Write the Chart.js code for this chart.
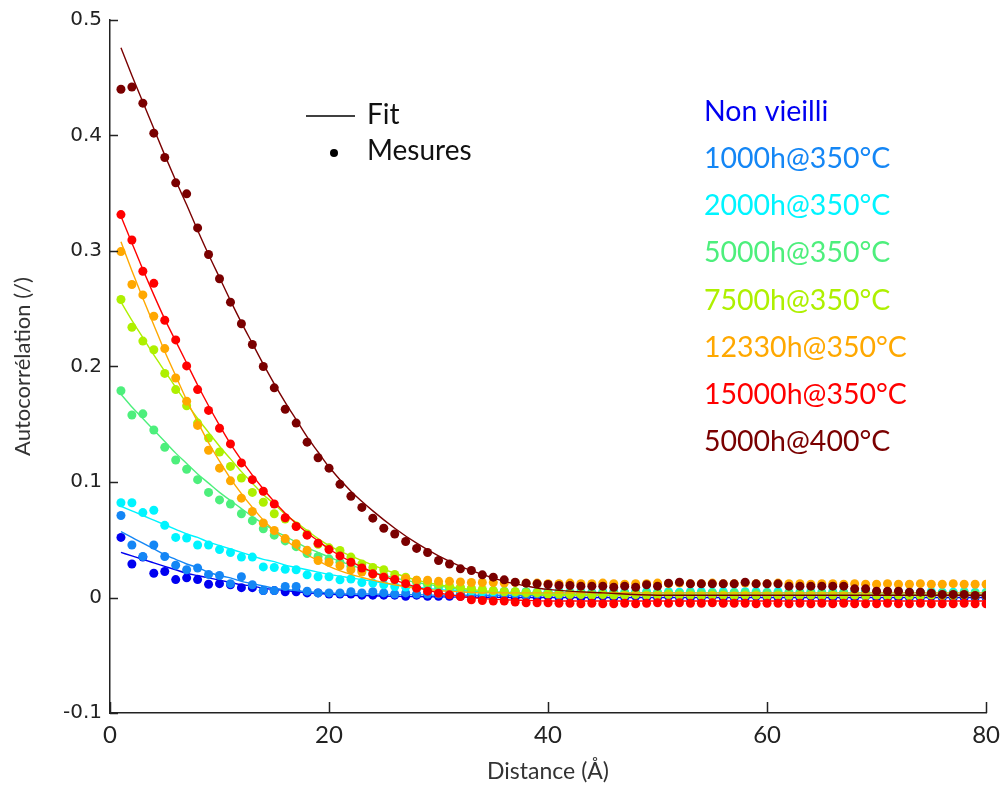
<!DOCTYPE html>
<html>
<head>
<meta charset="utf-8">
<title>Autocorrélation</title>
<script src="https://cdn.jsdelivr.net/npm/chart.js@4.4.1/dist/chart.umd.min.js"></script>
<style>
    html, body { margin: 0; padding: 0; background: #fff; }
    #wrap { width: 1008px; height: 785px; }
</style>
</head>
<body>
<div id="wrap"><canvas id="chart" width="1008" height="785"></canvas></div>
<script>
// Axes
const xTicks = [0, 20, 40, 60, 80];
const yTicks = [-0.1, 0, 0.1, 0.2, 0.3, 0.4, 0.5];

// Distance (Å) of each measured point
const distances = [
    1, 2, 3, 4, 5, 6, 7, 8, 9, 10, 11, 12, 13, 14, 15, 16, 17, 18, 19, 20,
    21, 22, 23, 24, 25, 26, 27, 28, 29, 30, 31, 32, 33, 34, 35, 36, 37, 38, 39, 40,
    41, 42, 43, 44, 45, 46, 47, 48, 49, 50, 51, 52, 53, 54, 55, 56, 57, 58, 59, 60,
    61, 62, 63, 64, 65, 66, 67, 68, 69, 70, 71, 72, 73, 74, 75, 76, 77, 78, 79, 80
];

// Distance of the fit samples
const fitDistances = [1, 2, 3, 4, 5, 6, 7, 8, 9, 10, 11, 12, 13, 14, 15, 16, 17, 18, 19, 20,
    22, 24, 26, 28, 30, 32, 34, 36, 38, 40, 45, 50, 60, 70, 80];

const seriesNames = ['Non vieilli', '1000h@350°C', '2000h@350°C', '5000h@350°C',
    '7500h@350°C', '12330h@350°C', '15000h@350°C', '5000h@400°C'];
const seriesColors = ['#0000f0', '#1486f5', '#00f4ff', '#4def7c',
    '#aef000', '#ffa800', '#ff0000', '#7a0000'];

// Mesures
const nonVieilli = [
    0.052, 0.029, 0.035, 0.021, 0.0225, 0.0155, 0.017, 0.0155, 0.0115, 0.012,
    0.011, 0.0085, 0.0085, 0.006, 0.006, 0.005, 0.005, 0.004, 0.004, 0.003,
    0.003, 0.003, 0.002, 0.002, 0.002, 0.002, 0.001, 0.002, 0.001, 0.001,
    0.001, 0.001, 0.001, 0.000, 0.001, 0.001, 0.000, 0.001, 0.000, 0.001,
    0.000, 0.001, 0.000, 0.000, 0.001, 0.000, 0.000, 0.001, 0.000, 0.000,
    0.001, 0.000, 0.000, 0.000, 0.001, 0.000, 0.000, 0.000, 0.001, 0.000,
    0.000, 0.000, 0.000, 0.001, 0.000, 0.000, 0.000, 0.000, 0.001, 0.000,
    0.000, 0.000, 0.000, 0.000, 0.001, 0.000, 0.000, 0.000, 0.000, 0.000
];
const h1000 = [
    0.071, 0.0455, 0.0355, 0.0455, 0.0355, 0.028, 0.024, 0.0255, 0.020, 0.019,
    0.012, 0.018, 0.011, 0.006, 0.006, 0.0095, 0.0095, 0.0055, 0.004, 0.004,
    0.004, 0.005, 0.004, 0.005, 0.004, 0.003, 0.004, 0.003, 0.003, 0.003,
    0.003, 0.004, 0.003, 0.003, 0.002, 0.003, 0.003, 0.002, 0.003, 0.003,
    0.002, 0.003, 0.003, 0.002, 0.003, 0.002, 0.003, 0.003, 0.002, 0.003,
    0.003, 0.002, 0.003, 0.002, 0.003, 0.003, 0.002, 0.003, 0.002, 0.003,
    0.002, 0.003, 0.002, 0.003, 0.002, 0.002, 0.003, 0.002, 0.003, 0.002,
    0.002, 0.003, 0.002, 0.002, 0.003, 0.002, 0.002, 0.003, 0.002, 0.002
];
const h2000 = [
    0.082, 0.082, 0.0735, 0.0755, 0.0625, 0.052, 0.0515, 0.0455, 0.0455, 0.0415,
    0.039, 0.035, 0.035, 0.0265, 0.026, 0.0245, 0.024, 0.0196, 0.018, 0.018,
    0.0153, 0.016, 0.013, 0.0125, 0.011, 0.0095, 0.009, 0.008, 0.0075, 0.007,
    0.0065, 0.006, 0.0055, 0.005, 0.005, 0.005, 0.0045, 0.005, 0.0045, 0.005,
    0.005, 0.0045, 0.005, 0.0045, 0.005, 0.005, 0.0045, 0.005, 0.005, 0.0045,
    0.005, 0.0045, 0.005, 0.005, 0.0045, 0.005, 0.0045, 0.005, 0.005, 0.0045,
    0.005, 0.0045, 0.0045, 0.005, 0.0045, 0.005, 0.0045, 0.0045, 0.005, 0.0045,
    0.0045, 0.005, 0.0045, 0.0045, 0.005, 0.0045, 0.0045, 0.005, 0.0045, 0.0045
];
const h5000 = [
    0.179, 0.158, 0.159, 0.145, 0.130, 0.119, 0.111, 0.102, 0.091, 0.0845,
    0.081, 0.0725, 0.0665, 0.0595, 0.054, 0.049, 0.044, 0.038, 0.0355, 0.0335,
    0.0306, 0.0268, 0.0234, 0.0205, 0.019, 0.017, 0.015, 0.013, 0.011, 0.010,
    0.009, 0.008, 0.007, 0.0065, 0.006, 0.0055, 0.005, 0.005, 0.0045, 0.0045,
    0.004, 0.004, 0.004, 0.0035, 0.004, 0.004, 0.0035, 0.004, 0.0035, 0.004,
    0.004, 0.0035, 0.004, 0.0035, 0.004, 0.0035, 0.004, 0.004, 0.0035, 0.004,
    0.0035, 0.004, 0.0035, 0.004, 0.0035, 0.0035, 0.004, 0.0035, 0.004, 0.0035,
    0.0035, 0.004, 0.0035, 0.0035, 0.004, 0.0035, 0.0035, 0.004, 0.0035, 0.0035
];
const h7500 = [
    0.258, 0.234, 0.222, 0.2145, 0.194, 0.180, 0.166, 0.151, 0.138, 0.126,
    0.1135, 0.1035, 0.091, 0.0825, 0.0725, 0.068, 0.062, 0.055, 0.046, 0.043,
    0.0407, 0.035, 0.029, 0.026, 0.024, 0.020, 0.0176, 0.015, 0.0135, 0.012,
    0.010, 0.009, 0.008, 0.007, 0.006, 0.005, 0.005, 0.004, 0.004, 0.003,
    0.003, 0.0025, 0.0025, 0.002, 0.0025, 0.002, 0.002, 0.0025, 0.002, 0.002,
    0.0025, 0.002, 0.002, 0.0015, 0.002, 0.002, 0.0015, 0.002, 0.002, 0.0015,
    0.002, 0.0015, 0.002, 0.002, 0.0015, 0.002, 0.0015, 0.002, 0.0015, 0.002,
    0.0015, 0.002, 0.0015, 0.0015, 0.002, 0.0015, 0.0015, 0.002, 0.0015, 0.0015
];
const h12330 = [
    0.2995, 0.271, 0.262, 0.2435, 0.2155, 0.190, 0.170, 0.149, 0.1275, 0.112,
    0.101, 0.086, 0.0745, 0.0645, 0.058, 0.051, 0.0465, 0.041, 0.032, 0.0305,
    0.0275, 0.024, 0.022, 0.020, 0.018, 0.016, 0.0165, 0.015, 0.015, 0.014,
    0.014, 0.0135, 0.013, 0.013, 0.013, 0.0125, 0.013, 0.0125, 0.0125, 0.012,
    0.012, 0.0125, 0.012, 0.012, 0.0125, 0.012, 0.0115, 0.012, 0.012, 0.0125,
    0.012, 0.0125, 0.012, 0.012, 0.0125, 0.012, 0.012, 0.0125, 0.012, 0.012,
    0.0125, 0.012, 0.012, 0.0115, 0.012, 0.012, 0.0115, 0.012, 0.0115, 0.0115,
    0.012, 0.0115, 0.0115, 0.012, 0.0115, 0.0115, 0.012, 0.0115, 0.0115, 0.0115
];
const h15000 = [
    0.3315, 0.3095, 0.2825, 0.272, 0.240, 0.223, 0.2005, 0.180, 0.162, 0.1465,
    0.133, 0.1165, 0.102, 0.092, 0.081, 0.069, 0.0615, 0.054, 0.047, 0.0415,
    0.036, 0.0305, 0.0255, 0.0205, 0.0175, 0.0155, 0.012, 0.008, 0.0055, 0.0037,
    0.0023, 0.0009, -0.002, -0.0026, -0.003, -0.003, -0.004, -0.0045, -0.0045, -0.0045,
    -0.005, -0.005, -0.0055, -0.005, -0.0055, -0.0055, -0.005, -0.0055, -0.005, -0.0045,
    -0.005, -0.0045, -0.005, -0.005, -0.0045, -0.005, -0.005, -0.005, -0.0055, -0.005,
    -0.005, -0.0055, -0.005, -0.0055, -0.005, -0.0055, -0.005, -0.0055, -0.0055, -0.0055,
    -0.005, -0.0055, -0.0055, -0.005, -0.0055, -0.0055, -0.0055, -0.005, -0.0055, -0.0055
];
const h5000at400 = [
    0.440, 0.442, 0.428, 0.402, 0.381, 0.359, 0.3495, 0.320, 0.297, 0.276,
    0.2557, 0.237, 0.219, 0.200, 0.1815, 0.163, 0.151, 0.1345, 0.121, 0.112,
    0.098, 0.0877, 0.078, 0.0687, 0.060, 0.055, 0.0485, 0.0425, 0.039, 0.032,
    0.029, 0.0248, 0.0234, 0.0196, 0.0176, 0.0153, 0.0133, 0.0124, 0.0118, 0.0113,
    0.0104, 0.0104, 0.0098, 0.0098, 0.0098, 0.0089, 0.0098, 0.0089, 0.011, 0.0098,
    0.0124, 0.0133, 0.0118, 0.0118, 0.0118, 0.0118, 0.0118, 0.0133, 0.0118, 0.0118,
    0.0118, 0.0098, 0.0098, 0.0098, 0.0098, 0.0098, 0.0098, 0.0075, 0.0075, 0.0055,
    0.0055, 0.0055, 0.0046, 0.0046, 0.0037, 0.0026, 0.0026, 0.0026, 0.0017, 0.0017
];

// Fits (at fitDistances)
const fitNonVieilli = [0.039, 0.036, 0.033, 0.030, 0.027, 0.024, 0.021, 0.019, 0.017, 0.015,
    0.013, 0.011, 0.010, 0.008, 0.007, 0.006, 0.005, 0.004, 0.0035, 0.003,
    0.002, 0.0015, 0.001, 0.0008, 0.0005, 0.0003, 0.0002, 0.0001, 0, 0, 0, 0, 0, 0, 0];
const fit1000 = [0.057, 0.052, 0.047, 0.042, 0.037, 0.033, 0.029, 0.026, 0.022, 0.019,
    0.017, 0.014, 0.012, 0.010, 0.008, 0.007, 0.006, 0.005, 0.0045, 0.004,
    0.003, 0.003, 0.0025, 0.0025, 0.002, 0.002, 0.002, 0.002, 0.002, 0.002, 0.002, 0.002, 0.002, 0.002, 0.002];
const fit2000 = [0.079, 0.075, 0.071, 0.067, 0.063, 0.059, 0.055, 0.052, 0.048, 0.045,
    0.042, 0.039, 0.036, 0.033, 0.031, 0.028, 0.026, 0.024, 0.022, 0.020,
    0.017, 0.014, 0.011, 0.009, 0.007, 0.006, 0.005, 0.0045, 0.004, 0.004, 0.004, 0.004, 0.004, 0.004, 0.004];
const fit5000 = [0.176, 0.165, 0.155, 0.145, 0.135, 0.125, 0.116, 0.107, 0.099, 0.091,
    0.084, 0.077, 0.070, 0.064, 0.058, 0.053, 0.048, 0.043, 0.039, 0.035,
    0.028, 0.022, 0.017, 0.013, 0.010, 0.007, 0.005, 0.004, 0.003, 0.003, 0.002, 0.002, 0.002, 0.002, 0.002];
const fit7500 = [0.256, 0.240, 0.225, 0.210, 0.196, 0.182, 0.168, 0.155, 0.143, 0.131,
    0.120, 0.109, 0.099, 0.089, 0.081, 0.072, 0.065, 0.058, 0.051, 0.045,
    0.036, 0.028, 0.021, 0.015, 0.011, 0.008, 0.006, 0.004, 0.003, 0.002, 0.002, 0.002, 0.002, 0.002, 0.002];
const fit12330 = [0.308, 0.283, 0.259, 0.236, 0.213, 0.192, 0.171, 0.152, 0.134, 0.118,
    0.103, 0.090, 0.078, 0.067, 0.058, 0.050, 0.043, 0.037, 0.032, 0.027,
    0.020, 0.015, 0.011, 0.008, 0.006, 0.005, 0.004, 0.004, 0.004, 0.004, 0.004, 0.004, 0.004, 0.004, 0.004];
const fit15000 = [0.330, 0.307, 0.284, 0.262, 0.241, 0.222, 0.203, 0.184, 0.166, 0.149,
    0.133, 0.119, 0.106, 0.094, 0.083, 0.073, 0.064, 0.056, 0.049, 0.042,
    0.031, 0.022, 0.015, 0.009, 0.004, 0.001, -0.001, -0.002, -0.0025, -0.003, -0.003, -0.003, -0.003, -0.003, -0.003];
const fit5000at400 = [0.476, 0.452, 0.429, 0.406, 0.383, 0.361, 0.340, 0.318, 0.297, 0.277,
    0.257, 0.238, 0.220, 0.202, 0.185, 0.169, 0.154, 0.139, 0.126, 0.113,
    0.092, 0.075, 0.060, 0.047, 0.036, 0.027, 0.020, 0.014, 0.010, 0.007, 0.004, 0.002, 0.002, 0.002, 0.002];

const measures = [nonVieilli, h1000, h2000, h5000, h7500, h12330, h15000, h5000at400];
const fits = [fitNonVieilli, fit1000, fit2000, fit5000, fit7500, fit12330, fit15000, fit5000at400];

document.addEventListener('DOMContentLoaded', () => {
    initChart();
});

/**
 * Build datasets: one scatter + one fit line per sample
 */
function buildDatasets() {
    const datasets = [];
    const last = measures.length - 1;
    measures.forEach((values, i) => {
        const color = seriesColors[i];
        datasets.push({
            label: seriesNames[i] + ' fit',
            data: fits[i].map((v, k) => ({ x: fitDistances[k], y: v })),
            showLine: true,
            borderColor: color,
            borderWidth: 1.4,
            pointRadius: 0,
            cubicInterpolationMode: 'monotone',
            order: (last - i) * 2
        });
        datasets.push({
            label: seriesNames[i],
            data: values.map((v, k) => ({ x: distances[k], y: v })),
            showLine: false,
            backgroundColor: color,
            borderWidth: 0,
            pointRadius: 4.5,
            order: (last - i) * 2 + 1
        });
    });
    return datasets;
}

/**
 * Inward tick marks on both axes
 */
const innerTicks = {
    id: 'innerTicks',
    afterDraw(chart) {
        const { ctx, chartArea, scales } = chart;
        ctx.save();
        ctx.strokeStyle = '#222';
        ctx.lineWidth = 1.5;
        ctx.beginPath();
        yTicks.forEach(v => {
            const y = Math.round(scales.y.getPixelForValue(v)) + 0.5;
            ctx.moveTo(chartArea.left, y);
            ctx.lineTo(chartArea.left + 8, y);
        });
        xTicks.forEach(v => {
            const x = Math.round(scales.x.getPixelForValue(v)) + 0.5;
            ctx.moveTo(x, chartArea.bottom);
            ctx.lineTo(x, chartArea.bottom - 11);
        });
        ctx.stroke();
        ctx.restore();
    }
};

/**
 * Text legend (Fit / Mesures and coloured sample names)
 */
const textLegend = {
    id: 'textLegend',
    afterDraw(chart) {
        const ctx = chart.ctx;
        ctx.save();
        ctx.textBaseline = 'middle';
        ctx.textAlign = 'left';

        ctx.strokeStyle = '#000';
        ctx.lineWidth = 1.5;
        ctx.beginPath();
        ctx.moveTo(306, 116);
        ctx.lineTo(355, 116);
        ctx.stroke();
        ctx.fillStyle = '#000';
        ctx.beginPath();
        ctx.arc(334, 153, 4, 0, Math.PI * 2);
        ctx.fill();
        ctx.font = '28px Lato';
        ctx.fillStyle = '#111';
        ctx.fillText('Fit', 367, 115);
        ctx.fillText('Mesures', 367, 151);

        ctx.font = '28.5px Lato';
        seriesNames.forEach((name, i) => {
            ctx.fillStyle = seriesColors[i];
            ctx.fillText(name, 704, 112 + i * 47.1);
        });
        ctx.restore();
    }
};

function initChart() {
    const ctx = document.getElementById('chart').getContext('2d');

    new Chart(ctx, {
        type: 'scatter',
        data: { datasets: buildDatasets() },
        options: {
            responsive: false,
            animation: false,
            devicePixelRatio: 1,
            layout: { padding: { top: 19, right: 16, left: 0, bottom: 0 } },
            plugins: {
                legend: { display: false },
                tooltip: { enabled: false }
            },
            scales: {
                x: {
                    type: 'linear',
                    min: 0,
                    max: 80,
                    afterFit: scale => { scale.height = 72; },
                    afterBuildTicks: scale => { scale.ticks = xTicks.map(v => ({ value: v })); },
                    grid: { display: false, drawTicks: false },
                    border: { display: true, color: '#222', width: 1.5 },
                    ticks: {
                        padding: 8,
                        color: '#222',
                        font: { family: 'Lato', size: 24 },
                        callback: v => String(v)
                    },
                    title: {
                        display: true,
                        text: 'Distance (Å)',
                        color: '#333',
                        font: { family: 'Lato', size: 23 },
                        padding: { top: 0, bottom: 0 }
                    }
                },
                y: {
                    min: -0.1,
                    max: 0.5,
                    afterFit: scale => { scale.width = 110; },
                    afterBuildTicks: scale => { scale.ticks = yTicks.map(v => ({ value: v })); },
                    grid: { display: false, drawTicks: false },
                    border: { display: true, color: '#222', width: 1.5 },
                    ticks: {
                        padding: 8,
                        color: '#222',
                        font: { family: 'DejaVu Sans', size: 20 },
                        callback: v => String(v)
                    },
                    title: {
                        display: true,
                        text: 'Autocorrélation (/)',
                        color: '#333',
                        font: { family: 'Lato', size: 22 },
                        padding: { top: 10, bottom: 0 }
                    }
                }
            }
        },
        plugins: [innerTicks, textLegend]
    });
}
</script>
</body>
</html>
